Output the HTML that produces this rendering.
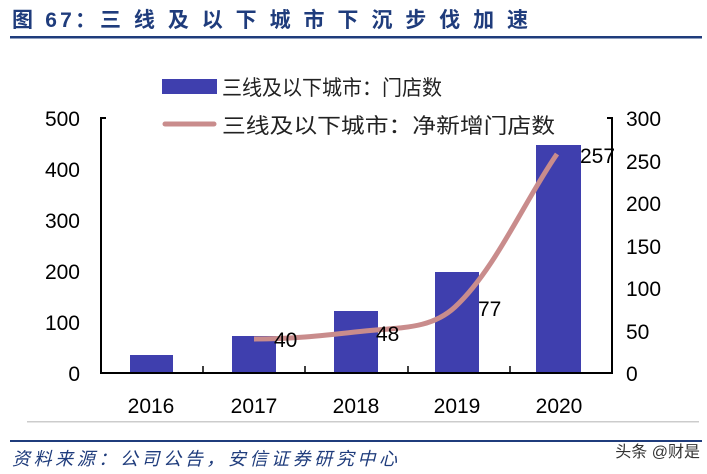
<!DOCTYPE html>
<html><head><meta charset="utf-8"><style>
body{margin:0;background:#fff;}
svg{display:block;font-family:"Liberation Sans","Noto Sans CJK SC",sans-serif;}
</style></head><body>
<svg width="707" height="474" viewBox="0 0 707 474">
<text x="12" y="27" font-size="21" font-weight="bold" fill="#1f3c7c" textLength="84" lengthAdjust="spacing">图 67：</text>
<text x="100" y="27" font-size="21" font-weight="bold" fill="#1f3c7c" textLength="428" lengthAdjust="spacing">三线及以下城市下沉步伐加速</text>
<rect x="10" y="36" width="692" height="2.5" fill="#1f3c7c"/>
<rect x="162" y="79" width="55" height="15" fill="#3f3fae"/>
<text x="222" y="95" font-size="21" fill="#222" textLength="220" lengthAdjust="spacingAndGlyphs">三线及以下城市：门店数</text>
<line x1="165" y1="124" x2="214" y2="124" stroke="#c98c8c" stroke-width="5" stroke-linecap="round"/>
<text x="222" y="133" font-size="21" fill="#222" textLength="333" lengthAdjust="spacingAndGlyphs">三线及以下城市：净新增门店数</text>
<g font-size="21" fill="#000">
<text x="80" y="126" text-anchor="end">500</text>
<text x="80" y="177" text-anchor="end">400</text>
<text x="80" y="228" text-anchor="end">300</text>
<text x="80" y="279" text-anchor="end">200</text>
<text x="80" y="330" text-anchor="end">100</text>
<text x="80" y="381" text-anchor="end">0</text>
<text x="626" y="126">300</text>
<text x="626" y="169">250</text>
<text x="626" y="211">200</text>
<text x="626" y="254">150</text>
<text x="626" y="296">100</text>
<text x="626" y="339">50</text>
<text x="626" y="381">0</text>
<text x="151" y="413" text-anchor="middle">2016</text>
<text x="254" y="413" text-anchor="middle">2017</text>
<text x="356" y="413" text-anchor="middle">2018</text>
<text x="457" y="413" text-anchor="middle">2019</text>
<text x="559" y="413" text-anchor="middle">2020</text>
</g>
<g fill="#3f3fae">
<rect x="130" y="355" width="43" height="18"/>
<rect x="232" y="336" width="44" height="37"/>
<rect x="334" y="311" width="44" height="62"/>
<rect x="435" y="272" width="44" height="101"/>
<rect x="536" y="145" width="45" height="228"/>
</g>
<path d="M254,339 C290,339 320,336 355,332 C400,327 430,330 455,307 C495,270 525,200 557,154" fill="none" stroke="#c98c8c" stroke-width="5"/>
<g font-size="21" fill="#000">
<text x="274" y="347">40</text>
<text x="376" y="341">48</text>
<text x="478" y="316">77</text>
<text x="580" y="163">257</text>
</g>
<path d="M106,118 H101 V373 H612 V118 H607" fill="none" stroke="#000" stroke-width="2"/>
<g stroke="#000" stroke-width="1.5">
<line x1="203" y1="373" x2="203" y2="366"/><line x1="305" y1="373" x2="305" y2="366"/>
<line x1="408" y1="373" x2="408" y2="366"/><line x1="510" y1="373" x2="510" y2="366"/>
</g>
<rect x="27" y="421" width="672" height="1.5" fill="#ccc"/>
<rect x="10" y="440" width="692" height="2" fill="#1f3c7c"/>
<text x="12" y="465" font-size="18" font-style="italic" fill="#1f3c7c" textLength="385" lengthAdjust="spacing">资料来源：公司公告，安信证券研究中心</text>
<text x="700" y="457" font-size="16" fill="#333" text-anchor="end">头条 @财是</text>
</svg>
</body></html>
